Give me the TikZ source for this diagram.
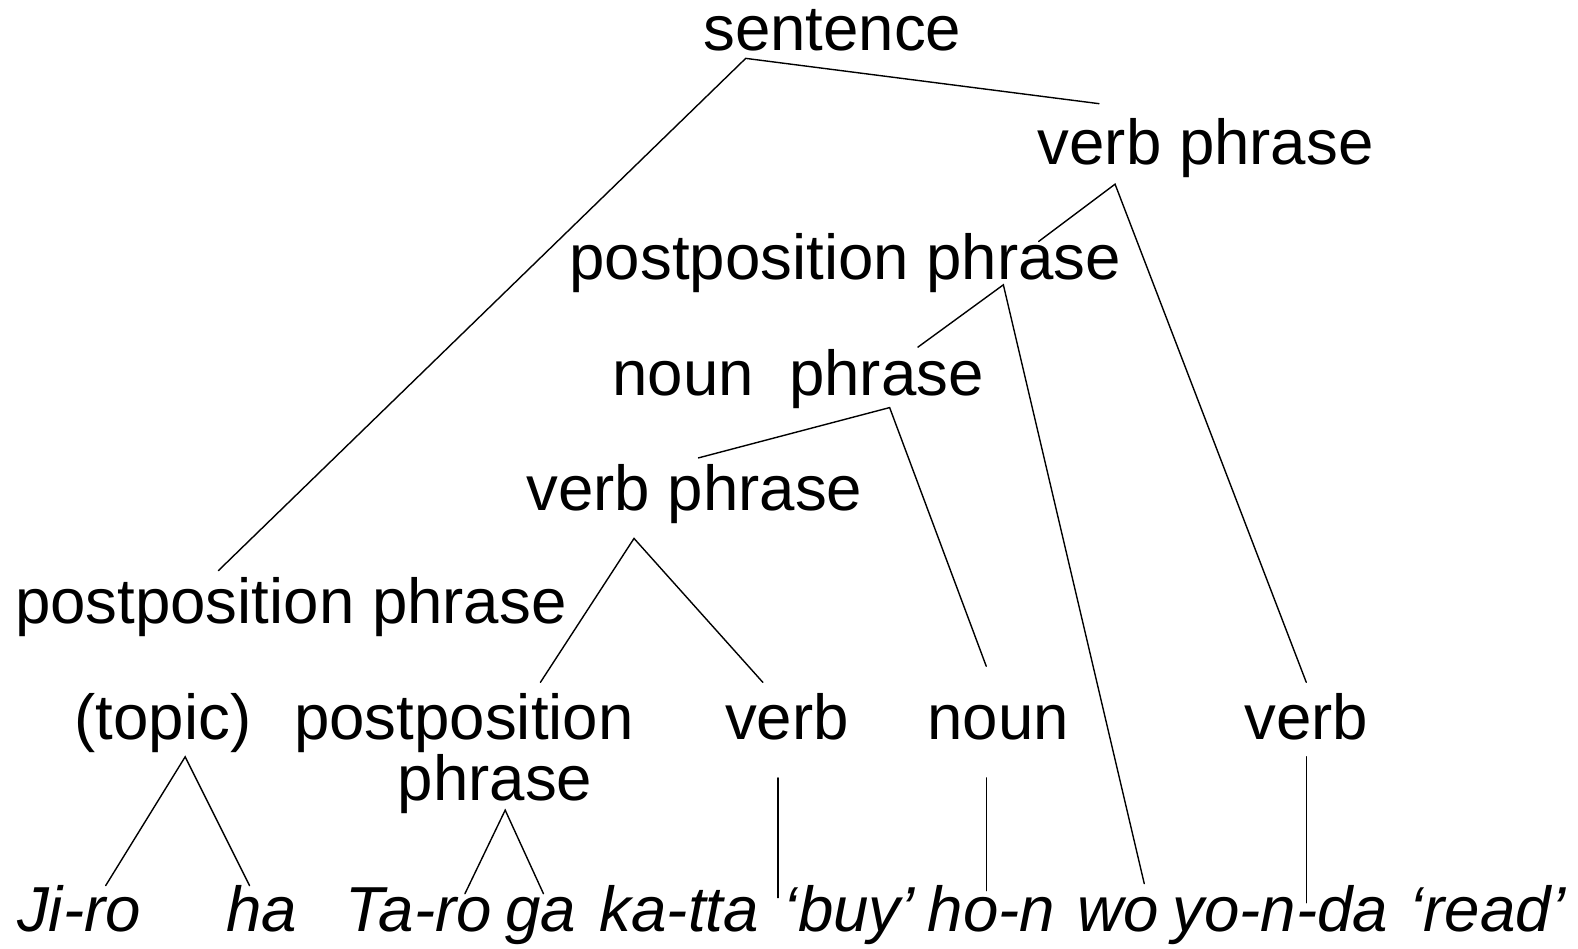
\documentclass[tikz,border=0pt]{standalone}
\usepackage{fontspec}
\setmainfont{Liberation Sans}
\begin{document}
\begin{tikzpicture}[x=1.00638pt,y=-1.00638pt,
  every node/.style={inner sep=0pt, outer sep=0pt, anchor=base},
  lbl/.style={font=\fontsize{63.6}{70}\selectfont},
  word/.style={font=\fontsize{63.6}{70}\selectfont\itshape},
  edge/.style={line width=1.4pt, line cap=round}]
\useasboundingbox (0,0) rectangle (1568,942);
% labels
\node[lbl] (s)   at (827,50)  {sentence};
\node[lbl] (vp1) at (1198,163) {verb phrase};
\node[lbl] (pp1) at (840,278) {postposition phrase};
\node[lbl] (np)  at (793,393) {noun\ \ phrase};
\node[lbl] (vp2) at (690,507) {verb phrase};
\node[lbl] (pp2) at (289,620) {postposition phrase};
\node[lbl] (top) at (162,735) {(topic)};
\node[lbl] (pp3a) at (461,735) {postposition};
\node[lbl] (pp3b) at (492,795) {phrase};
\node[lbl] (v1)  at (782,735) {verb};
\node[lbl] (n1)  at (992,735) {noun};
\node[lbl] (v2)  at (1298,735) {verb};
% words
\node[word] (w1)  at (78.5,926) {Ji-ro};
\node[word] (w2)  at (260,926) {ha};
\node[word] (w3)  at (416,926) {Ta-ro};
\node[word] (w4)  at (537,926) {ga};
\node[word] (w5)  at (675,926) {ka-tta};
\node[word] (w6)  at (844,926) {‘buy’};
\node[word] (w7)  at (985,926) {ho-n};
\node[word] (w8)  at (1111,926) {wo};
\node[word] (w9)  at (1272,926) {yo-n-da};
\node[word] (w10) at (1478,926) {‘read’};
% connector end points
\coordinate (s-b)    at (741,58);
\coordinate (pp2-t)  at (217,567);
\coordinate (vp1-t)  at (1092,103);
\coordinate (vp1-b)  at (1108,183);
\coordinate (pp1-t)  at (1032,240);
\coordinate (v2-t)   at (1298,678);
\coordinate (pp1-b)  at (997,283);
\coordinate (np-t)   at (912,345);
\coordinate (w8-t)   at (1137,878);
\coordinate (np-b)   at (884,405);
\coordinate (vp2-t)  at (694,455);
\coordinate (n1-t)   at (980,662);
\coordinate (vp2-b)  at (630,535);
\coordinate (pp3a-t) at (537,678);
\coordinate (v1-t)   at (758,678);
\coordinate (top-b)  at (184,752);
\coordinate (w1-t)   at (105,880);
\coordinate (w2-t)   at (248,880);
\coordinate (pp3b-b) at (502,805);
\coordinate (w3-t)   at (462,888);
\coordinate (w4-t)   at (540,888);
\coordinate (v1-b)   at (773,773);
\coordinate (w6-t)   at (773,892);
\coordinate (n1-b)   at (980,773);
\coordinate (w7-t)   at (980,885);
\coordinate (v2-b)   at (1298,752);
\coordinate (w9-t)   at (1298,897);
% connectors
\draw[edge] (pp2-t) -- (s-b) -- (vp1-t);
\draw[edge] (pp1-t) -- (vp1-b) -- (v2-t);
\draw[edge] (np-t) -- (pp1-b) -- (w8-t);
\draw[edge] (vp2-t) -- (np-b) -- (n1-t);
\draw[edge] (pp3a-t) -- (vp2-b) -- (v1-t);
\draw[edge] (w1-t) -- (top-b) -- (w2-t);
\draw[edge] (w3-t) -- (pp3b-b) -- (w4-t);
\draw[edge] (v1-b) -- (w6-t);
\draw[edge] (n1-b) -- (w7-t);
\draw[edge] (v2-b) -- (w9-t);
\end{tikzpicture}
\end{document}
